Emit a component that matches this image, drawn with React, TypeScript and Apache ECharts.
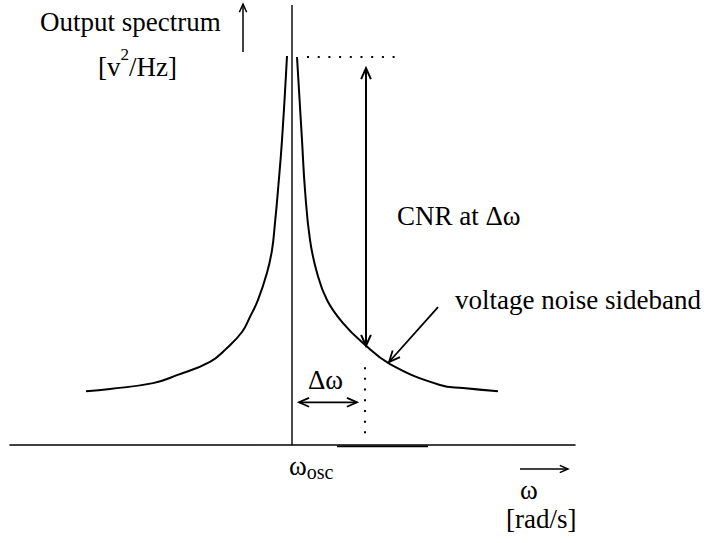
import React, { useEffect, useRef } from "react";
import * as echarts from "echarts";

// Spectrum around the oscillation frequency (ω relative to ω_osc, level in arbitrary units)
const leftOmega = [-10.3, -9.1, -6.95, -5.75, -4.1, -3.25, -2.5, -2.1, -1.7, -1.25, -1.0, -0.85, -0.7, -0.5, -0.25];
const leftLevel = [12.1, 12.6, 13.9, 15.7, 18.7, 21.8, 25.4, 28.8, 32.6, 38.7, 43.8, 49.9, 57.3, 68.5, 87.4];
const rightOmega = [0.25, 0.5, 0.65, 0.9, 1.25, 1.75, 2.55, 3.55, 4.9, 7.4, 8.55, 10.3];
const rightLevel = [87.2, 68.5, 57.3, 46.1, 38.7, 32.6, 27.4, 22.9, 18.2, 13.5, 12.8, 12.1];

// Annotation anchors (data units)
const peakLevel = 87.2;
const deltaOmega = 3.65;
const sidebandLevel = 22.3;
const carrierTop = 98.9;

const FONT = '"Liberation Serif", "Times New Roman", serif';
const INK = "#000";
const SIZE = 27;

type P = [number, number];

function head(tip: P, from: P, len = 12, angDeg = 24): P[] {
  const dx = tip[0] - from[0];
  const dy = tip[1] - from[1];
  const d = Math.hypot(dx, dy) || 1;
  const ux = dx / d;
  const uy = dy / d;
  const a = (angDeg * Math.PI) / 180;
  const rot = (s: number): P => {
    const c = Math.cos(s * a);
    const n = Math.sin(s * a);
    const rx = ux * c - uy * n;
    const ry = ux * n + uy * c;
    return [tip[0] - len * rx, tip[1] - len * ry];
  };
  return [rot(1), tip, rot(-1)];
}

function arrow(from: P, to: P, width: number, both: boolean, len = 12): any[] {
  const els: any[] = [
    {
      type: "line",
      shape: { x1: from[0], y1: from[1], x2: to[0], y2: to[1] },
      style: { stroke: INK, lineWidth: width },
    },
    {
      type: "polyline",
      shape: { points: head(to, from, len) },
      style: { stroke: INK, fill: "none", lineWidth: width },
    },
  ];
  if (both) {
    els.push({
      type: "polyline",
      shape: { points: head(from, to, len) },
      style: { stroke: INK, fill: "none", lineWidth: width },
    });
  }
  return els;
}

function text(x: number, y: number, str: string, size = SIZE): any {
  return {
    type: "text",
    x,
    y,
    style: {
      text: str,
      font: `${size}px ${FONT}`,
      fill: INK,
      align: "left",
      verticalAlign: "middle",
    },
  };
}

const measurer = typeof document !== "undefined" ? document.createElement("canvas").getContext("2d") : null;
function textWidth(str: string, size = SIZE): number {
  if (!measurer) return str.length * size * 0.5;
  measurer.font = `${size}px ${FONT}`;
  return measurer.measureText(str).width;
}

export default function App() {
  const ref = useRef<HTMLDivElement>(null);

  useEffect(() => {
    document.body.style.margin = "0";
    if (!ref.current) return;
    const chart = echarts.init(ref.current, null, { renderer: "svg" });

    const curve = (xs: number[], ys: number[]) => xs.map((x, i) => [x, ys[i]]);

    const branch = (xs: number[], ys: number[]) => ({
      type: "line",
      data: curve(xs, ys),
      smooth: 0.45,
      symbol: "none",
      clip: false,
      lineStyle: { color: INK, width: 2 },
    });

    chart.setOption({
      animation: false,
      backgroundColor: "#fff",
      grid: { left: 10, right: 129, top: 0, bottom: 98, containLabel: false },
      xAxis: {
        type: "value",
        min: -14.1,
        max: 14.15,
        axisLine: { show: true, onZero: false, lineStyle: { color: INK, width: 1.6 } },
        axisTick: { show: false },
        axisLabel: { show: false },
        splitLine: { show: false },
      },
      yAxis: {
        type: "value",
        min: 0,
        max: 100,
        axisLine: { show: false },
        axisTick: { show: false },
        axisLabel: { show: false },
        splitLine: { show: false },
      },
      series: [
        branch(leftOmega, leftLevel),
        branch(rightOmega, rightLevel),
        {
          // carrier line at ω_osc
          type: "line",
          data: [
            [0, 0],
            [0, carrierTop],
          ],
          symbol: "none",
          clip: false,
          lineStyle: { color: INK, width: 1.4 },
        },
        {
          // heavier stretch of the baseline
          type: "line",
          data: [
            [2.25, -0.3],
            [6.8, -0.3],
          ],
          symbol: "none",
          clip: false,
          lineStyle: { color: INK, width: 1.6 },
        },
      ],
    });

    const px = (x: number, y: number): P => chart.convertToPixel({ gridIndex: 0 }, [x, y]) as P;

    const dotted = (a: P, b: P) => ({
      type: "line",
      shape: { x1: a[0], y1: a[1], x2: b[0], y2: b[1] },
      style: { stroke: INK, lineWidth: 2, lineDash: [2, 8.7] },
    });

    // units label with a raised exponent
    const unitX = 98;
    const unitY = 67;
    const wV = textWidth("[v");
    const wSup = textWidth("2", 17);
    // ω_osc label with a lowered subscript
    const oscX = 289;
    const wOmega = textWidth("ω");

    const graphic: any[] = [
      // carrier level marker
      dotted(px(0.75, peakLevel), px(5.15, peakLevel)),
      // offset marker at Δω
      dotted(px(deltaOmega, 17.5), px(deltaOmega, 2.3)),
      // carrier-to-noise span
      ...arrow(px(deltaOmega + 0.05, 84.7), px(deltaOmega + 0.05, sidebandLevel), 2, true),
      // Δω span
      ...arrow(px(0.35, 9.6), px(deltaOmega - 0.4, 9.6), 1.8, true, 11),
      // pointer to the sideband
      ...arrow(px(7.3, 31.0), px(4.85, 18.65), 1.8, false, 12),
      // axis direction arrows
      ...arrow([243, 52], [243, 4], 1.5, false, 9),
      ...arrow([520, 469], [568, 469], 1.5, false, 9),
      text(40, 22, "Output spectrum"),
      text(unitX, unitY, "[v"),
      text(unitX + wV, unitY - 13, "2", 17),
      text(unitX + wV + wSup, unitY, "/Hz]"),
      text(397, 216, "CNR at Δω"),
      text(455, 300, "voltage noise sideband"),
      text(308, 380, "Δω"),
      text(oscX, 466, "ω"),
      text(oscX + wOmega, 472, "osc", 20),
      text(520, 490, "ω"),
      text(506, 519, "[rad/s]"),
    ];

    chart.setOption({ graphic });

    return () => chart.dispose();
  }, []);

  return <div ref={ref} style={{ width: 704, height: 543 }} />;
}
